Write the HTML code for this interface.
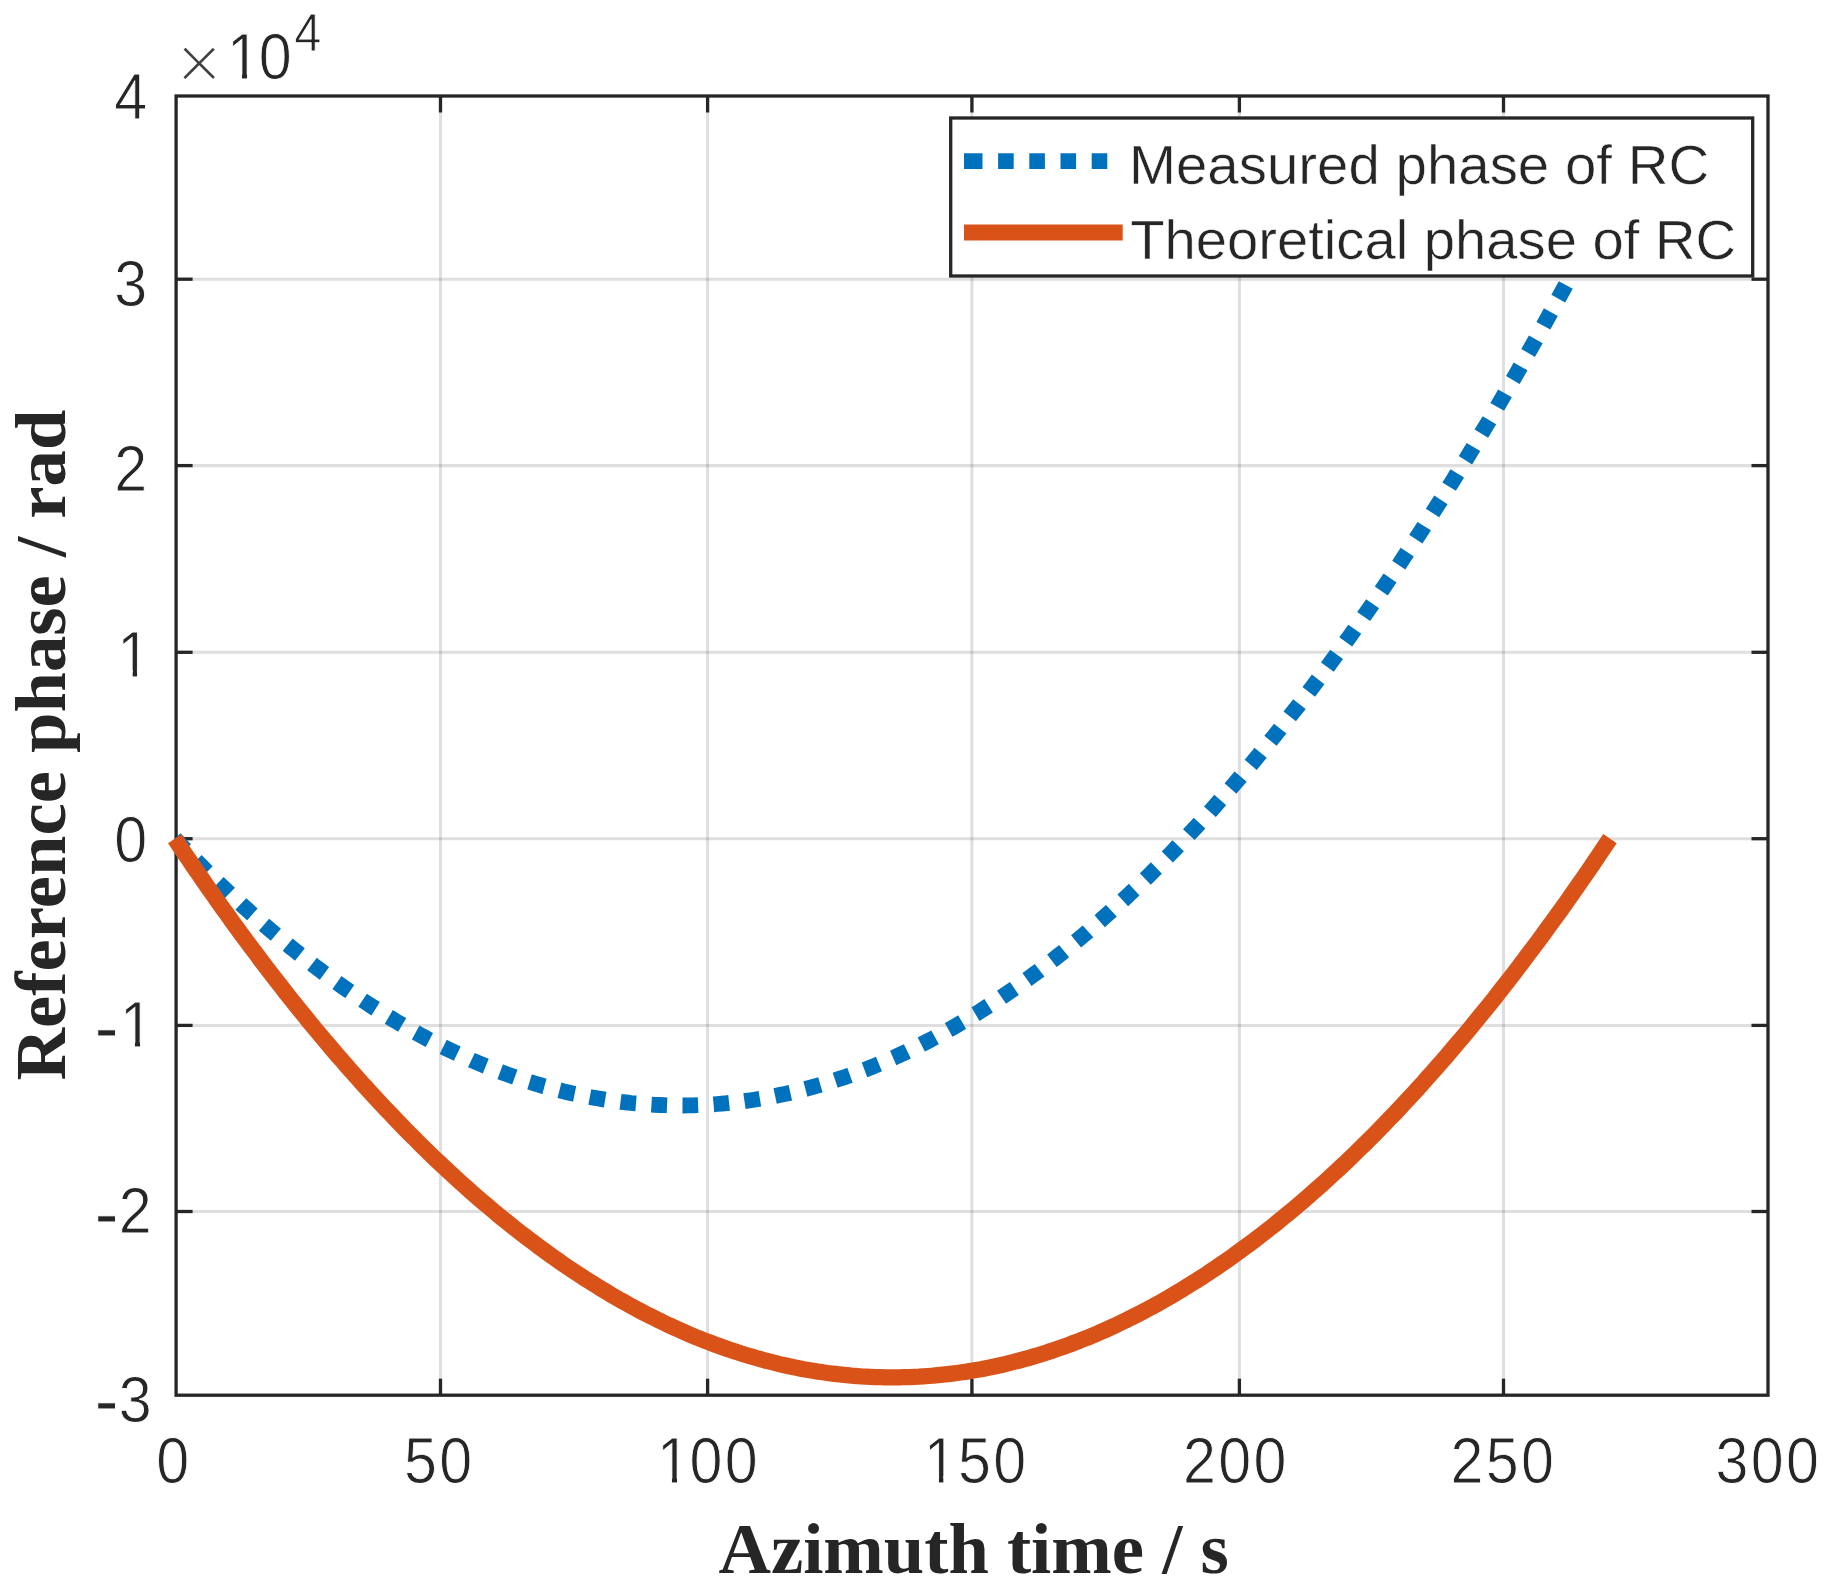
<!DOCTYPE html>
<html lang="en">
<head>
<meta charset="utf-8">
<title>Reference phase of RC</title>
<style>html,body{margin:0;padding:0;background:#fff;overflow:hidden;}svg{display:block;}</style>
</head>
<body>
<svg width="1835" height="1590" viewBox="0 0 1835 1590">
<rect x="0" y="0" width="1835" height="1590" fill="#ffffff"/>
<g stroke="#262626" stroke-opacity="0.15" stroke-width="3.05" fill="none">
<line x1="440.5" y1="96.0" x2="440.5" y2="1395.2"/>
<line x1="707.6" y1="96.0" x2="707.6" y2="1395.2"/>
<line x1="971.9" y1="96.0" x2="971.9" y2="1395.2"/>
<line x1="1239.4" y1="96.0" x2="1239.4" y2="1395.2"/>
<line x1="1503.5" y1="96.0" x2="1503.5" y2="1395.2"/>
<line x1="176.1" y1="279.2" x2="1768.0" y2="279.2"/>
<line x1="176.1" y1="465.6" x2="1768.0" y2="465.6"/>
<line x1="176.1" y1="652.3" x2="1768.0" y2="652.3"/>
<line x1="176.1" y1="838.7" x2="1768.0" y2="838.7"/>
<line x1="176.1" y1="1025.4" x2="1768.0" y2="1025.4"/>
<line x1="176.1" y1="1211.5" x2="1768.0" y2="1211.5"/>
</g>
<g stroke="#262626" stroke-width="3.3" fill="none" stroke-linecap="butt">
<rect x="176.1" y="96.0" width="1591.9" height="1299.2"/>
<line x1="440.5" y1="1395.2" x2="440.5" y2="1378.7"/>
<line x1="440.5" y1="96.0" x2="440.5" y2="112.5"/>
<line x1="707.6" y1="1395.2" x2="707.6" y2="1378.7"/>
<line x1="707.6" y1="96.0" x2="707.6" y2="112.5"/>
<line x1="971.9" y1="1395.2" x2="971.9" y2="1378.7"/>
<line x1="971.9" y1="96.0" x2="971.9" y2="112.5"/>
<line x1="1239.4" y1="1395.2" x2="1239.4" y2="1378.7"/>
<line x1="1239.4" y1="96.0" x2="1239.4" y2="112.5"/>
<line x1="1503.5" y1="1395.2" x2="1503.5" y2="1378.7"/>
<line x1="1503.5" y1="96.0" x2="1503.5" y2="112.5"/>
<line x1="176.1" y1="279.2" x2="192.6" y2="279.2"/>
<line x1="1768.0" y1="279.2" x2="1751.5" y2="279.2"/>
<line x1="176.1" y1="465.6" x2="192.6" y2="465.6"/>
<line x1="1768.0" y1="465.6" x2="1751.5" y2="465.6"/>
<line x1="176.1" y1="652.3" x2="192.6" y2="652.3"/>
<line x1="1768.0" y1="652.3" x2="1751.5" y2="652.3"/>
<line x1="176.1" y1="838.7" x2="192.6" y2="838.7"/>
<line x1="1768.0" y1="838.7" x2="1751.5" y2="838.7"/>
<line x1="176.1" y1="1025.4" x2="192.6" y2="1025.4"/>
<line x1="1768.0" y1="1025.4" x2="1751.5" y2="1025.4"/>
<line x1="176.1" y1="1211.5" x2="192.6" y2="1211.5"/>
<line x1="1768.0" y1="1211.5" x2="1751.5" y2="1211.5"/>
</g>
<path d="M174.8,838.7 L179.6,843.7 L184.3,848.7 L189.2,853.7 L193.9,858.6 L198.8,863.4 L203.6,868.3 L208.3,873.0 L213.2,877.7 L217.9,882.4 L222.8,887.0 L227.6,891.6 L232.3,896.1 L237.2,900.5 L241.9,905.0 L246.8,909.3 L251.6,913.7 L256.4,917.9 L261.1,922.2 L265.9,926.3 L270.8,930.5 L275.6,934.6 L280.4,938.6 L285.1,942.6 L289.9,946.5 L294.8,950.4 L299.6,954.2 L304.4,958.0 L309.1,961.8 L313.9,965.5 L318.8,969.1 L323.5,972.7 L328.4,976.3 L333.1,979.8 L337.9,983.2 L342.8,986.7 L347.5,990.0 L352.4,993.3 L357.1,996.6 L361.9,999.8 L366.8,1003.0 L371.5,1006.1 L376.4,1009.2 L381.1,1012.2 L385.9,1015.2 L390.8,1018.1 L395.5,1021.0 L400.4,1023.8 L405.1,1026.6 L409.9,1029.3 L414.8,1032.0 L419.5,1034.6 L424.4,1037.2 L429.1,1039.8 L433.9,1042.3 L438.8,1044.7 L443.6,1047.1 L448.3,1049.4 L453.1,1051.7 L457.9,1054.0 L462.8,1056.2 L467.6,1058.3 L472.3,1060.5 L477.1,1062.5 L481.9,1064.5 L486.8,1066.5 L491.6,1068.4 L496.3,1070.3 L501.1,1072.1 L505.9,1073.9 L510.8,1075.6 L515.5,1077.3 L520.3,1078.9 L525.1,1080.5 L530.0,1082.0 L534.8,1083.5 L539.5,1084.9 L544.3,1086.3 L549.1,1087.6 L554.0,1088.9 L558.8,1090.1 L563.5,1091.3 L568.3,1092.5 L573.1,1093.6 L578.0,1094.6 L582.8,1095.6 L587.5,1096.6 L592.3,1097.5 L597.1,1098.3 L602.0,1099.1 L606.8,1099.9 L611.5,1100.6 L616.3,1101.3 L621.1,1101.9 L626.0,1102.4 L630.8,1103.0 L635.5,1103.4 L640.3,1103.8 L645.1,1104.2 L650.0,1104.5 L654.8,1104.8 L659.5,1105.0 L664.3,1105.2 L669.1,1105.4 L674.0,1105.4 L678.8,1105.5 L683.5,1105.5 L688.4,1105.4 L693.1,1105.3 L697.9,1105.1 L702.8,1104.9 L707.5,1104.7 L712.4,1104.4 L717.1,1104.0 L721.9,1103.6 L726.8,1103.2 L731.5,1102.7 L736.4,1102.1 L741.1,1101.6 L745.9,1100.9 L750.8,1100.2 L755.5,1099.5 L760.4,1098.7 L765.1,1097.9 L769.9,1097.0 L774.8,1096.1 L779.5,1095.1 L784.4,1094.1 L789.1,1093.0 L793.9,1091.9 L798.8,1090.7 L803.5,1089.5 L808.4,1088.2 L813.1,1086.9 L817.9,1085.5 L822.8,1084.1 L827.5,1082.7 L832.4,1081.2 L837.1,1079.6 L841.9,1078.0 L846.8,1076.4 L851.5,1074.7 L856.4,1072.9 L861.1,1071.1 L865.9,1069.3 L870.8,1067.4 L875.5,1065.4 L880.4,1063.4 L885.1,1061.4 L889.9,1059.3 L894.8,1057.2 L899.5,1055.0 L904.4,1052.8 L909.1,1050.5 L913.9,1048.2 L918.8,1045.8 L923.5,1043.4 L928.4,1040.9 L933.1,1038.4 L937.9,1035.8 L942.8,1033.2 L947.5,1030.5 L952.4,1027.8 L957.1,1025.1 L961.9,1022.3 L966.8,1019.4 L971.5,1016.5 L976.4,1013.6 L981.1,1010.6 L985.9,1007.5 L990.8,1004.4 L995.5,1001.3 L1000.4,998.1 L1005.1,994.8 L1009.9,991.5 L1014.8,988.2 L1019.5,984.8 L1024.3,981.4 L1029.2,977.9 L1033.9,974.4 L1038.8,970.8 L1043.5,967.2 L1048.3,963.5 L1053.2,959.8 L1057.9,956.0 L1062.8,952.2 L1067.5,948.3 L1072.3,944.4 L1077.2,940.4 L1081.9,936.4 L1086.8,932.4 L1091.5,928.2 L1096.3,924.1 L1101.2,919.9 L1105.9,915.6 L1110.8,911.3 L1115.5,907.0 L1120.3,902.6 L1125.2,898.1 L1129.9,893.6 L1134.8,889.1 L1139.5,884.5 L1144.3,879.9 L1149.2,875.2 L1153.9,870.4 L1158.8,865.7 L1163.5,860.8 L1168.3,856.0 L1173.2,851.0 L1177.9,846.0 L1182.8,841.0 L1187.5,836.0 L1192.3,830.8 L1197.2,825.7 L1202.0,820.4 L1206.8,815.2 L1211.5,809.9 L1216.3,804.5 L1221.1,799.1 L1226.0,793.6 L1230.8,788.1 L1235.5,782.6 L1240.3,777.0 L1245.1,771.3 L1250.0,765.6 L1254.8,759.9 L1259.5,754.1 L1264.3,748.2 L1269.1,742.4 L1274.0,736.4 L1278.8,730.4 L1283.5,724.4 L1288.3,718.3 L1293.1,712.2 L1298.0,706.0 L1302.8,699.8 L1307.5,693.5 L1312.3,687.2 L1317.1,680.8 L1322.0,674.4 L1326.8,667.9 L1331.5,661.4 L1336.3,654.8 L1341.1,648.2 L1346.0,641.5 L1350.8,634.8 L1355.5,628.1 L1360.3,621.3 L1365.1,614.4 L1370.0,607.5 L1374.8,600.5 L1379.5,593.5 L1384.3,586.5 L1389.1,579.4 L1394.0,572.3 L1398.8,565.1 L1403.5,557.8 L1408.3,550.5 L1413.1,543.2 L1418.0,535.8 L1422.8,528.4 L1427.5,520.9 L1432.3,513.4 L1437.1,505.8 L1442.0,498.2 L1446.8,490.5 L1451.5,482.8 L1456.3,475.0 L1461.1,467.2 L1466.0,459.3 L1470.8,451.4 L1475.5,443.4 L1480.3,435.4 L1485.1,427.4 L1490.0,419.3 L1494.8,411.1 L1499.5,402.9 L1504.3,394.6 L1509.1,386.3 L1514.0,378.0 L1518.8,369.6 L1523.5,361.1 L1528.3,352.7 L1533.1,344.1 L1538.0,335.5 L1542.8,326.9 L1547.5,318.2 L1552.3,309.5 L1557.1,300.7 L1562.0,291.9 L1566.8,283.0 L1571.5,274.0 L1576.3,265.1 L1581.1,256.0 L1586.0,247.0 L1590.8,237.9 L1595.5,228.7 L1600.3,219.5 L1605.1,210.2 L1610.0,200.9" fill="none" stroke="#0072BD" stroke-width="15.8" stroke-dasharray="15.6 15.48" stroke-dashoffset="0.4" stroke-linejoin="round"/>
<path d="M174.8,838.7 L179.6,845.9 L184.3,853.0 L189.2,860.1 L193.9,867.1 L198.8,874.1 L203.6,881.1 L208.3,888.0 L213.2,894.8 L217.9,901.6 L222.8,908.4 L227.6,915.1 L232.3,921.7 L237.2,928.3 L241.9,934.9 L246.8,941.4 L251.6,947.8 L256.4,954.2 L261.1,960.6 L265.9,966.9 L270.8,973.2 L275.6,979.4 L280.4,985.6 L285.1,991.7 L289.9,997.8 L294.8,1003.8 L299.6,1009.8 L304.4,1015.7 L309.1,1021.6 L313.9,1027.4 L318.8,1033.2 L323.5,1038.9 L328.4,1044.6 L333.1,1050.3 L337.9,1055.9 L342.8,1061.4 L347.5,1066.9 L352.4,1072.4 L357.1,1077.7 L361.9,1083.1 L366.8,1088.4 L371.5,1093.7 L376.4,1098.9 L381.1,1104.0 L385.9,1109.1 L390.8,1114.2 L395.5,1119.2 L400.4,1124.2 L405.1,1129.1 L409.9,1134.0 L414.8,1138.8 L419.5,1143.6 L424.4,1148.3 L429.1,1153.0 L433.9,1157.6 L438.8,1162.2 L443.6,1166.7 L448.3,1171.2 L453.1,1175.6 L457.9,1180.0 L462.8,1184.3 L467.6,1188.6 L472.3,1192.9 L477.1,1197.1 L481.9,1201.2 L486.8,1205.3 L491.6,1209.4 L496.3,1213.4 L501.1,1217.3 L505.9,1221.2 L510.8,1225.1 L515.5,1228.9 L520.3,1232.6 L525.1,1236.3 L530.0,1240.0 L534.8,1243.6 L539.5,1247.2 L544.3,1250.7 L549.1,1254.2 L554.0,1257.6 L558.8,1261.0 L563.5,1264.3 L568.3,1267.6 L573.1,1270.8 L578.0,1274.0 L582.8,1277.1 L587.5,1280.2 L592.3,1283.2 L597.1,1286.2 L602.0,1289.2 L606.8,1292.1 L611.5,1294.9 L616.3,1297.7 L621.1,1300.5 L626.0,1303.2 L630.8,1305.8 L635.5,1308.4 L640.3,1311.0 L645.1,1313.5 L650.0,1315.9 L654.8,1318.3 L659.5,1320.7 L664.3,1323.0 L669.1,1325.3 L674.0,1327.5 L678.8,1329.7 L683.5,1331.8 L688.4,1333.9 L693.1,1335.9 L697.9,1337.9 L702.8,1339.8 L707.5,1341.7 L712.4,1343.5 L717.1,1345.3 L721.9,1347.0 L726.8,1348.7 L731.5,1350.4 L736.4,1351.9 L741.1,1353.5 L745.9,1355.0 L750.8,1356.4 L755.5,1357.8 L760.4,1359.2 L765.1,1360.5 L769.9,1361.7 L774.8,1362.9 L779.5,1364.1 L784.4,1365.2 L789.1,1366.3 L793.9,1367.3 L798.8,1368.2 L803.5,1369.2 L808.4,1370.0 L813.1,1370.8 L817.9,1371.6 L822.8,1372.3 L827.5,1373.0 L832.4,1373.6 L837.1,1374.2 L841.9,1374.7 L846.8,1375.2 L851.5,1375.7 L856.4,1376.0 L861.1,1376.4 L865.9,1376.7 L870.8,1376.9 L875.5,1377.1 L880.4,1377.2 L885.1,1377.3 L889.9,1377.4 L894.8,1377.4 L899.5,1377.3 L904.4,1377.2 L909.1,1377.1 L913.9,1376.9 L918.8,1376.7 L923.5,1376.4 L928.4,1376.0 L933.1,1375.7 L937.9,1375.2 L942.8,1374.7 L947.5,1374.2 L952.4,1373.6 L957.1,1373.0 L961.9,1372.3 L966.8,1371.6 L971.5,1370.8 L976.4,1370.0 L981.1,1369.2 L985.9,1368.2 L990.8,1367.3 L995.5,1366.3 L1000.4,1365.2 L1005.1,1364.1 L1009.9,1362.9 L1014.8,1361.7 L1019.5,1360.5 L1024.3,1359.2 L1029.2,1357.8 L1033.9,1356.4 L1038.8,1355.0 L1043.5,1353.5 L1048.3,1351.9 L1053.2,1350.4 L1057.9,1348.7 L1062.8,1347.0 L1067.5,1345.3 L1072.3,1343.5 L1077.2,1341.7 L1081.9,1339.8 L1086.8,1337.9 L1091.5,1335.9 L1096.3,1333.9 L1101.2,1331.8 L1105.9,1329.7 L1110.8,1327.5 L1115.5,1325.3 L1120.3,1323.0 L1125.2,1320.7 L1129.9,1318.3 L1134.8,1315.9 L1139.5,1313.5 L1144.3,1311.0 L1149.2,1308.4 L1153.9,1305.8 L1158.8,1303.2 L1163.5,1300.5 L1168.3,1297.7 L1173.2,1294.9 L1177.9,1292.1 L1182.8,1289.2 L1187.5,1286.2 L1192.3,1283.2 L1197.2,1280.2 L1202.0,1277.1 L1206.8,1274.0 L1211.5,1270.8 L1216.3,1267.6 L1221.1,1264.3 L1226.0,1261.0 L1230.8,1257.6 L1235.5,1254.2 L1240.3,1250.7 L1245.1,1247.2 L1250.0,1243.6 L1254.8,1240.0 L1259.5,1236.3 L1264.3,1232.6 L1269.1,1228.9 L1274.0,1225.1 L1278.8,1221.2 L1283.5,1217.3 L1288.3,1213.4 L1293.1,1209.4 L1298.0,1205.3 L1302.8,1201.2 L1307.5,1197.1 L1312.3,1192.9 L1317.1,1188.6 L1322.0,1184.3 L1326.8,1180.0 L1331.5,1175.6 L1336.3,1171.2 L1341.1,1166.7 L1346.0,1162.2 L1350.8,1157.6 L1355.5,1153.0 L1360.3,1148.3 L1365.1,1143.6 L1370.0,1138.8 L1374.8,1134.0 L1379.5,1129.1 L1384.3,1124.2 L1389.1,1119.2 L1394.0,1114.2 L1398.8,1109.1 L1403.5,1104.0 L1408.3,1098.9 L1413.1,1093.7 L1418.0,1088.4 L1422.8,1083.1 L1427.5,1077.7 L1432.3,1072.4 L1437.1,1066.9 L1442.0,1061.4 L1446.8,1055.9 L1451.5,1050.3 L1456.3,1044.6 L1461.1,1038.9 L1466.0,1033.2 L1470.8,1027.4 L1475.5,1021.6 L1480.3,1015.7 L1485.1,1009.8 L1490.0,1003.8 L1494.8,997.8 L1499.5,991.7 L1504.3,985.6 L1509.1,979.4 L1514.0,973.2 L1518.8,966.9 L1523.5,960.6 L1528.3,954.2 L1533.1,947.8 L1538.0,941.4 L1542.8,934.9 L1547.5,928.3 L1552.3,921.7 L1557.1,915.1 L1562.0,908.4 L1566.8,901.6 L1571.5,894.8 L1576.3,888.0 L1581.1,881.1 L1586.0,874.1 L1590.8,867.1 L1595.5,860.1 L1600.3,853.0 L1605.1,845.9 L1610.0,838.7" fill="none" stroke="#D95319" stroke-width="16.3" stroke-linejoin="round"/>
<rect x="950.7" y="118.0" width="802.0" height="158.0" fill="#ffffff" stroke="#262626" stroke-width="3.3"/>
<line x1="964" y1="161.2" x2="1122.7" y2="161.2" stroke="#0072BD" stroke-width="15.8" stroke-dasharray="18.5 15.6 15.6 15.6 15.6 15.6 15.6 15.6 15.6 100"/>
<line x1="964" y1="232.5" x2="1122.7" y2="232.5" stroke="#D95319" stroke-width="15.8"/>
<text transform="translate(1129.00 184.40) scale(1.0167 1)" text-anchor="start" fill="#262626" stroke="#ffffff" stroke-width="0.5" style="font-family:'Liberation Sans',sans-serif;font-size:55.5px;">Measured phase of RC</text>
<text transform="translate(1130.20 258.80) scale(1.0126 1)" text-anchor="start" fill="#262626" stroke="#ffffff" stroke-width="0.5" style="font-family:'Liberation Sans',sans-serif;font-size:55.5px;">Theoretical phase of RC</text>
<text transform="translate(156.30 1483.20) scale(0.92 1)" text-anchor="start" fill="#262626" stroke="#ffffff" stroke-width="0.9" style="font-family:'Liberation Sans',sans-serif;font-size:64.4px;letter-spacing:2.5px;">0</text>
<text transform="translate(404.10 1483.20) scale(0.92 1)" text-anchor="start" fill="#262626" stroke="#ffffff" stroke-width="0.9" style="font-family:'Liberation Sans',sans-serif;font-size:64.4px;letter-spacing:2.5px;">50</text>
<text transform="translate(654.30 1483.20) scale(0.92 1)" text-anchor="start" fill="#262626" stroke="#ffffff" stroke-width="0.9" style="font-family:'Liberation Sans',sans-serif;font-size:64.4px;letter-spacing:2.5px;"><tspan dx="2.83">1</tspan><tspan dx="-2.83">00</tspan></text>
<text transform="translate(922.70 1483.20) scale(0.92 1)" text-anchor="start" fill="#262626" stroke="#ffffff" stroke-width="0.9" style="font-family:'Liberation Sans',sans-serif;font-size:64.4px;letter-spacing:2.5px;"><tspan dx="1.20">1</tspan><tspan dx="-1.20">50</tspan></text>
<text transform="translate(1183.00 1483.20) scale(0.92 1)" text-anchor="start" fill="#262626" stroke="#ffffff" stroke-width="0.9" style="font-family:'Liberation Sans',sans-serif;font-size:64.4px;letter-spacing:2.5px;">200</text>
<text transform="translate(1450.60 1483.20) scale(0.92 1)" text-anchor="start" fill="#262626" stroke="#ffffff" stroke-width="0.9" style="font-family:'Liberation Sans',sans-serif;font-size:64.4px;letter-spacing:2.5px;">250</text>
<text transform="translate(1715.60 1483.20) scale(0.92 1)" text-anchor="start" fill="#262626" stroke="#ffffff" stroke-width="0.9" style="font-family:'Liberation Sans',sans-serif;font-size:64.4px;letter-spacing:2.5px;">300</text>
<text transform="translate(149.50 119.00) scale(0.92 1)" text-anchor="end" fill="#262626" stroke="#ffffff" stroke-width="0.9" style="font-family:'Liberation Sans',sans-serif;font-size:64.4px;letter-spacing:2.5px;">4</text>
<text transform="translate(149.50 305.60) scale(0.92 1)" text-anchor="end" fill="#262626" stroke="#ffffff" stroke-width="0.9" style="font-family:'Liberation Sans',sans-serif;font-size:64.4px;letter-spacing:2.5px;">3</text>
<text transform="translate(149.50 490.60) scale(0.92 1)" text-anchor="end" fill="#262626" stroke="#ffffff" stroke-width="0.9" style="font-family:'Liberation Sans',sans-serif;font-size:64.4px;letter-spacing:2.5px;">2</text>
<text transform="translate(152.40 677.00) scale(0.92 1)" text-anchor="end" fill="#262626" stroke="#ffffff" stroke-width="0.9" style="font-family:'Liberation Sans',sans-serif;font-size:64.4px;letter-spacing:2.5px;">1</text>
<text transform="translate(149.50 861.60) scale(0.92 1)" text-anchor="end" fill="#262626" stroke="#ffffff" stroke-width="0.9" style="font-family:'Liberation Sans',sans-serif;font-size:64.4px;letter-spacing:2.5px;">0</text>
<text transform="translate(0 1047.00) scale(0.92 1)" fill="#262626" stroke="#ffffff" stroke-width="0.9" style="font-family:'Liberation Sans',sans-serif;font-size:64.4px;letter-spacing:2.5px;"><tspan x="102.83" dy="6.5" text-anchor="start" stroke-width="1.0" style="font-size:79px;letter-spacing:0">-</tspan><tspan x="168.80" dy="-6.5" text-anchor="end">1</tspan></text>
<text transform="translate(0 1233.40) scale(0.92 1)" fill="#262626" stroke="#ffffff" stroke-width="0.9" style="font-family:'Liberation Sans',sans-serif;font-size:64.4px;letter-spacing:2.5px;"><tspan x="102.83" dy="6.9" text-anchor="start" stroke-width="1.0" style="font-size:79px;letter-spacing:0">-</tspan><tspan x="167.39" dy="-6.9" text-anchor="end">2</tspan></text>
<text transform="translate(0 1422.40) scale(0.92 1)" fill="#262626" stroke="#ffffff" stroke-width="0.9" style="font-family:'Liberation Sans',sans-serif;font-size:64.4px;letter-spacing:2.5px;"><tspan x="102.83" dy="4.8" text-anchor="start" stroke-width="1.0" style="font-size:79px;letter-spacing:0">-</tspan><tspan x="167.39" dy="-4.8" text-anchor="end">3</tspan></text>
<text transform="translate(175.80 90.20)" text-anchor="start" fill="#404040" stroke="#ffffff" stroke-width="3.0" style="font-family:'Liberation Sans',sans-serif;font-size:80px;">×</text>
<text transform="translate(225.20 78.70) scale(0.92 1)" text-anchor="start" fill="#262626" stroke="#ffffff" stroke-width="0.9" style="font-family:'Liberation Sans',sans-serif;font-size:64.4px;letter-spacing:0.6px;"><tspan dx="1.96">1</tspan><tspan dx="-1.96">0</tspan></text>
<text transform="translate(294.30 50.70) scale(0.92 1)" text-anchor="start" fill="#262626" stroke="#ffffff" stroke-width="0.9" style="font-family:'Liberation Sans',sans-serif;font-size:53px;">4</text>
<rect x="228" y="72" width="13.95" height="9" fill="#ffffff"/>
<rect x="247.05" y="72" width="12.95" height="9" fill="#ffffff"/>
<rect x="658" y="1476" width="13.95" height="9" fill="#ffffff"/>
<rect x="677.05" y="1476" width="12.95" height="9" fill="#ffffff"/>
<rect x="925" y="1476" width="13.93" height="9" fill="#ffffff"/>
<rect x="943.35" y="1476" width="13.65" height="9" fill="#ffffff"/>
<rect x="118" y="670" width="14.67" height="9" fill="#ffffff"/>
<rect x="137.07" y="670" width="13.93" height="9" fill="#ffffff"/>
<rect x="121" y="1040" width="13.95" height="9" fill="#ffffff"/>
<rect x="140.05" y="1040" width="12.95" height="9" fill="#ffffff"/>
<text transform="translate(973.60 1573.30) scale(1.003 1)" text-anchor="middle" fill="#262626" style="font-family:'Liberation Serif',serif;font-size:72.4px;font-weight:bold;">Azimuth time / s</text>
<text transform="translate(64.90 745.00) rotate(-90) scale(1.004 1)" text-anchor="middle" fill="#262626" style="font-family:'Liberation Serif',serif;font-size:72.4px;font-weight:bold;">Reference phase / rad</text>
</svg>
</body>
</html>
